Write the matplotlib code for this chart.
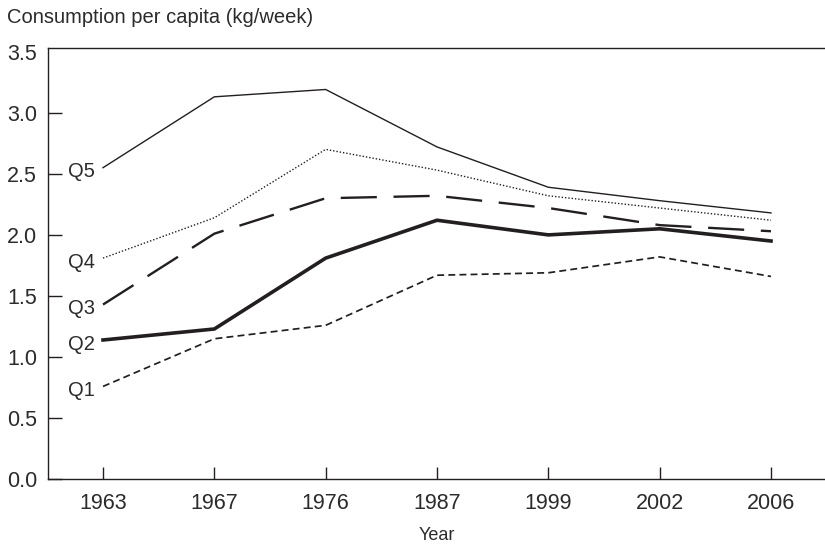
import numpy as np
import matplotlib.pyplot as plt

plt.rcParams['font.family'] = ['Liberation Sans', 'DejaVu Sans']
plt.rcParams['lines.scale_dashes'] = False

ink = '#231f20'
text_ink = '#2b2b2b'

years = ['1963', '1967', '1976', '1987', '1999', '2002', '2006']
q1 = [0.76, 1.15, 1.26, 1.67, 1.69, 1.82, 1.66]
q2 = [1.14, 1.23, 1.81, 2.12, 2.00, 2.05, 1.95]
q3 = [1.43, 2.01, 2.30, 2.32, 2.22, 2.08, 2.03]
q4 = [1.81, 2.14, 2.70, 2.53, 2.32, 2.22, 2.12]
q5 = [2.55, 3.13, 3.19, 2.72, 2.39, 2.28, 2.18]

# quintile -> (values, linewidth, dash pattern in points)
series = [
    ('Q5', q5, 1.0, None),
    ('Q4', q4, 1.0, (1.0, 1.4)),
    ('Q3', q3, 1.7, (26, 12)),
    ('Q2', q2, 2.6, None),
    ('Q1', q1, 1.25, (5, 3)),
]

fig = plt.figure(figsize=(8.25, 5.48), dpi=100)
ax = fig.add_axes([48 / 825, 1 - 479.3 / 548, 1 - 48 / 825, (479.3 - 48.3) / 548])

x = np.arange(len(years))
for name, vals, lw, dash in series:
    line, = ax.plot(x, vals, color=ink, lw=lw, solid_joinstyle='miter')
    if dash is not None:
        line.set_dashes(dash)
    ax.annotate(name, xy=(x[0], vals[0]), xytext=(-6, -3), textcoords='offset points',
                ha='right', va='center', fontsize=14.5, color=text_ink)

ax.set_xlim(-0.494, 6.485)
ax.set_ylim(0, 3.527)
ax.set_xticks(x)
ax.set_xticklabels(years)
yt = np.arange(0, 3.51, 0.5)
ax.set_yticks(yt)
ax.set_yticklabels([f'{v:.1f}' for v in yt])

ax.spines['right'].set_visible(False)
for s in ['left', 'bottom', 'top']:
    ax.spines[s].set_linewidth(1.0)
    ax.spines[s].set_color(ink)

ax.tick_params(axis='y', direction='in', length=10, width=1.0, color=ink,
               labelsize=15.5, labelcolor=text_ink, pad=8)
ax.tick_params(axis='x', direction='in', length=8.6, width=1.0, color=ink,
               labelsize=15.5, labelcolor=text_ink, pad=10)
# the top frame line already marks 3.5
ax.yaxis.get_major_ticks()[-1].tick1line.set_visible(False)

ax.set_xlabel('Year', fontsize=13, color=text_ink, labelpad=9)
fig.text(7 / 825, 1 - 22.7 / 548, 'Consumption per capita (kg/week)',
         fontsize=14.5, color=text_ink, ha='left', va='baseline')

fig.savefig('out.png', dpi=100)
